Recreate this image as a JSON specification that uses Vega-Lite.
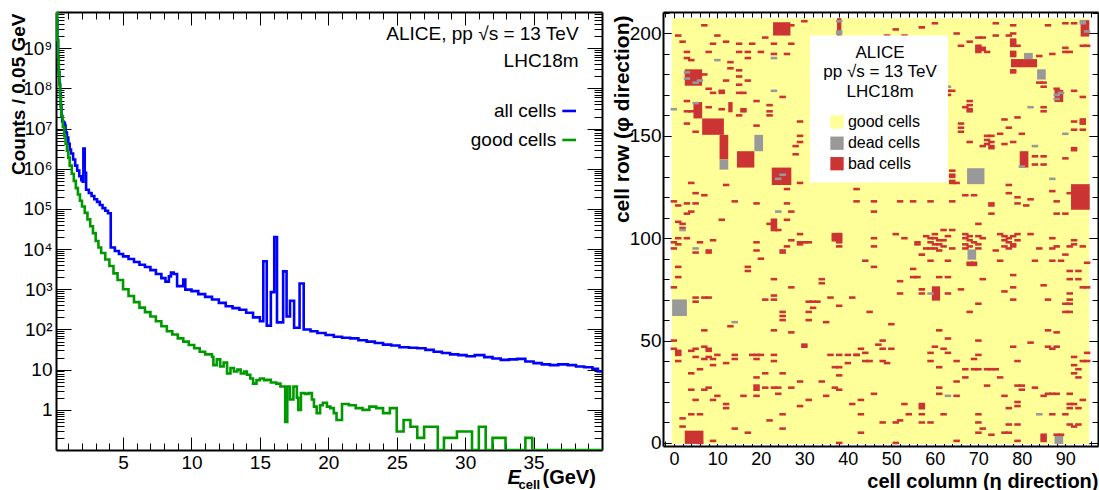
{
"$schema":"https://vega.github.io/schema/vega-lite/v6.json",
"padding":{"left":8,"top":11,"right":0,"bottom":0},
"spacing":7,
"background":"white",
"resolve":{"scale":{"color":"independent"}},
"config":{"view":{"stroke":null},"font":"Liberation Sans","axis":{"labelFont":"Liberation Sans","titleFont":"Liberation Sans","labelColor":"black","titleColor":"black","tickColor":"black","domainColor":"black","grid":false,"tickWidth":1,"domainWidth":2,"labelFontSize":19}},
"datasets":{
"all":[{"e":0.1,"n":3e10},{"e":0.15,"n":5e9},{"e":0.2,"n":1.6e9},{"e":0.25,"n":6e8},{"e":0.3,"n":2.6e8},{"e":0.35,"n":1.3e8},{"e":0.4,"n":7e7},{"e":0.45,"n":3.6e7},{"e":0.5,"n":2.1e7},{"e":0.55,"n":1.5e7},{"e":0.65,"n":1.4e7},{"e":0.75,"n":1.2e7},{"e":0.8,"n":8e6},{"e":0.9,"n":6e6},{"e":1.0,"n":4.2e6},{"e":1.1,"n":3e6},{"e":1.2,"n":2.4e6},{"e":1.35,"n":1.7e6},{"e":1.5,"n":1.2e6},{"e":1.65,"n":9e5},{"e":1.8,"n":6.5e5},{"e":1.95,"n":5.2e5},{"e":2.05,"n":4.8e5},{"e":2.1,"n":3.2e6},{"e":2.2,"n":8e5},{"e":2.3,"n":3e5},{"e":2.5,"n":2.5e5},{"e":2.7,"n":2.1e5},{"e":2.9,"n":1.75e5},{"e":3.1,"n":1.5e5},{"e":3.3,"n":1.25e5},{"e":3.5,"n":1.05e5},{"e":3.7,"n":9e4},{"e":3.9,"n":7.8e4},{"e":4.1,"n":1.1e4},{"e":4.4,"n":9e3},{"e":4.7,"n":7.6e3},{"e":5.0,"n":6.6e3},{"e":5.4,"n":5.7e3},{"e":5.8,"n":4.8e3},{"e":6.2,"n":4.1e3},{"e":6.6,"n":3.6e3},{"e":7.0,"n":3e3},{"e":7.4,"n":2.4e3},{"e":7.8,"n":1.9e3},{"e":8.1,"n":1.55e3},{"e":8.35,"n":2.1e3},{"e":8.5,"n":2.6e3},{"e":8.7,"n":2.4e3},{"e":8.95,"n":1.2e3},{"e":9.4,"n":1.75e3},{"e":9.55,"n":9.8e2},{"e":10.0,"n":9e2},{"e":10.5,"n":7.6e2},{"e":11.0,"n":6.5e2},{"e":11.5,"n":5.6e2},{"e":12.0,"n":4.6e2},{"e":12.5,"n":3.8e2},{"e":13.0,"n":3.4e2},{"e":13.5,"n":3.1e2},{"e":14.0,"n":2.6e2},{"e":14.5,"n":2.0e2},{"e":15.0,"n":1.6e2},{"e":15.25,"n":5e3},{"e":15.5,"n":1.25e2},{"e":15.8,"n":8.5e2},{"e":16.05,"n":2e4},{"e":16.25,"n":1.5e2},{"e":16.7,"n":2.8e3},{"e":16.95,"n":2.1e2},{"e":17.2,"n":5.2e2},{"e":17.5,"n":1.1e2},{"e":17.9,"n":1.4e3},{"e":18.2,"n":1e2},{"e":18.7,"n":9e1},{"e":19.2,"n":8.2e1},{"e":19.8,"n":7.3e1},{"e":20.4,"n":6.6e1},{"e":21.0,"n":6.2e1},{"e":21.6,"n":6e1},{"e":22.2,"n":5.4e1},{"e":22.8,"n":5e1},{"e":23.4,"n":4.6e1},{"e":24.0,"n":4.2e1},{"e":24.6,"n":4e1},{"e":25.2,"n":3.6e1},{"e":25.9,"n":3.5e1},{"e":26.5,"n":3.4e1},{"e":27.1,"n":3.1e1},{"e":27.7,"n":2.8e1},{"e":28.3,"n":2.6e1},{"e":28.9,"n":2.4e1},{"e":29.5,"n":2.3e1},{"e":30.1,"n":2.15e1},{"e":30.7,"n":2.3e1},{"e":31.4,"n":2.05e1},{"e":32.0,"n":1.9e1},{"e":32.6,"n":1.75e1},{"e":33.2,"n":1.8e1},{"e":33.8,"n":1.85e1},{"e":34.4,"n":1.6e1},{"e":35.0,"n":1.45e1},{"e":35.6,"n":1.35e1},{"e":36.2,"n":1.3e1},{"e":36.8,"n":1.35e1},{"e":37.5,"n":1.3e1},{"e":38.1,"n":1.2e1},{"e":38.7,"n":1.15e1},{"e":39.3,"n":1.05e1},{"e":39.7,"n":9},{"e":40,"n":9}],
"good":[{"e":0.1,"n":4e10},{"e":0.15,"n":8e9},{"e":0.2,"n":1.6e9},{"e":0.25,"n":6e8},{"e":0.3,"n":2.4e8},{"e":0.35,"n":1.2e8},{"e":0.4,"n":6e7},{"e":0.45,"n":3.3e7},{"e":0.5,"n":2e7},{"e":0.6,"n":1.1e7},{"e":0.7,"n":6.5e6},{"e":0.8,"n":4.2e6},{"e":0.9,"n":2.8e6},{"e":1.0,"n":1.9e6},{"e":1.1,"n":1.2e6},{"e":1.25,"n":7.5e5},{"e":1.4,"n":5e5},{"e":1.55,"n":3.3e5},{"e":1.7,"n":2.3e5},{"e":1.85,"n":1.6e5},{"e":2.0,"n":1.15e5},{"e":2.2,"n":8e4},{"e":2.4,"n":5.5e4},{"e":2.6,"n":3.7e4},{"e":2.8,"n":2.5e4},{"e":3.0,"n":1.6e4},{"e":3.2,"n":1.1e4},{"e":3.4,"n":8e3},{"e":3.7,"n":5.5e3},{"e":4.0,"n":3.8e3},{"e":4.3,"n":2.5e3},{"e":4.6,"n":1.7e3},{"e":5.0,"n":1e3},{"e":5.4,"n":6.8e2},{"e":5.8,"n":4.8e2},{"e":6.2,"n":3.5e2},{"e":6.6,"n":2.7e2},{"e":7.0,"n":2.1e2},{"e":7.4,"n":1.6e2},{"e":7.8,"n":1.2e2},{"e":8.2,"n":9e1},{"e":8.6,"n":7.5e1},{"e":9.0,"n":6e1},{"e":9.4,"n":5e1},{"e":9.8,"n":4.1e1},{"e":10.2,"n":3.4e1},{"e":10.6,"n":2.8e1},{"e":11.0,"n":2.4e1},{"e":11.5,"n":2.1e1},{"e":11.6,"n":1.3e1},{"e":11.85,"n":1.8e1},{"e":12.1,"n":1.2e1},{"e":12.35,"n":1.5e1},{"e":12.6,"n":8},{"e":12.85,"n":11},{"e":13.1,"n":9},{"e":13.35,"n":10},{"e":13.6,"n":8},{"e":13.85,"n":9},{"e":14.05,"n":7.5},{"e":14.3,"n":6},{"e":14.5,"n":4.5},{"e":14.75,"n":5.5},{"e":15.0,"n":6},{"e":15.3,"n":5.5},{"e":15.55,"n":5.6},{"e":15.8,"n":4.8},{"e":16.2,"n":4.5},{"e":16.5,"n":3.8},{"e":16.85,"n":0.5},{"e":17.0,"n":3.8},{"e":17.2,"n":1.8},{"e":17.45,"n":3.8},{"e":17.7,"n":2},{"e":17.8,"n":1},{"e":18.0,"n":2.6},{"e":18.3,"n":2.5},{"e":18.55,"n":2.6},{"e":18.8,"n":1.8},{"e":18.95,"n":1.2},{"e":19.15,"n":0.83},{"e":19.4,"n":1.3},{"e":19.6,"n":1.5},{"e":19.9,"n":1.2},{"e":20.15,"n":1.1},{"e":20.4,"n":0.83},{"e":20.6,"n":0.56},{"e":21.0,"n":1.4},{"e":21.5,"n":1.3},{"e":22.0,"n":1.1},{"e":22.5,"n":1.0},{"e":23.0,"n":1.2},{"e":23.5,"n":1.1},{"e":24.0,"n":0.83},{"e":24.5,"n":1.1},{"e":25.0,"n":0.29},{"e":25.5,"n":0.56},{"e":26.0,"n":0.38},{"e":26.5,"n":0.2},{"e":27.0,"n":0.38},{"e":28.0,"n":0.1},{"e":28.45,"n":0.2},{"e":29.4,"n":0.29},{"e":30.5,"n":0.1},{"e":31.0,"n":0.38},{"e":31.5,"n":0.1},{"e":32.0,"n":0.2},{"e":32.95,"n":0.1},{"e":34.4,"n":0.2},{"e":34.9,"n":0.1},{"e":40,"n":0.1}],
"leg":[{"s":"all cells","x0":37.1,"x1":38.1,"y":2.75e7},{"s":"good cells","x0":37.1,"x1":38.1,"y":5.22e6}],
"hdr":[{"t":"ALICE, pp  √s = 13 TeV","y":2.27e9},{"t":"LHC18m","y":4.83e8}],
"blocks":[
{"c0":2.5,"c1":6.5,"r0":174.5,"r1":182.5,"t":"bad cells"},
{"c0":4.5,"c1":6.5,"r0":158.5,"r1":166.5,"t":"bad cells"},
{"c0":12.5,"c1":13.5,"r0":161.5,"r1":166.5,"t":"bad cells"},
{"c0":6.5,"c1":11.5,"r0":150.5,"r1":158.5,"t":"bad cells"},
{"c0":10.5,"c1":12.5,"r0":138.5,"r1":150.5,"t":"bad cells"},
{"c0":14.5,"c1":18.5,"r0":134.5,"r1":142.5,"t":"bad cells"},
{"c0":22.5,"c1":27,"r0":126,"r1":134.5,"t":"bad cells"},
{"c0":22.8,"c1":26.8,"r0":199,"r1":205.5,"t":"bad cells"},
{"c0":37.5,"c1":38.5,"r0":198.5,"r1":207.5,"t":"bad cells"},
{"c0":2.5,"c1":6.8,"r0":-0.5,"r1":6,"t":"bad cells"},
{"c0":77.5,"c1":83.5,"r0":183.5,"r1":187.5,"t":"bad cells"},
{"c0":87.5,"c1":89.5,"r0":166.5,"r1":172.5,"t":"bad cells"},
{"c0":79.5,"c1":81.5,"r0":134.5,"r1":142.5,"t":"bad cells"},
{"c0":91.3,"c1":95.6,"r0":113.9,"r1":126.4,"t":"bad cells"},
{"c0":59.3,"c1":61.2,"r0":69.5,"r1":76.5,"t":"bad cells"},
{"c0":93.5,"c1":95.5,"r0":198.5,"r1":206.5,"t":"bad cells"},
{"c0":10.5,"c1":12.5,"r0":133.5,"r1":138.5,"t":"dead cells"},
{"c0":18.5,"c1":20.5,"r0":142.5,"r1":150.5,"t":"dead cells"},
{"c0":-0.4,"c1":3.0,"r0":62,"r1":70.1,"t":"dead cells"},
{"c0":80.5,"c1":82.5,"r0":187.5,"r1":190.5,"t":"dead cells"},
{"c0":83.5,"c1":85.5,"r0":177.5,"r1":182.5,"t":"dead cells"},
{"c0":67.4,"c1":71.4,"r0":126.4,"r1":134.2,"t":"dead cells"},
{"c0":67.5,"c1":69.5,"r0":89.5,"r1":94.5,"t":"dead cells"},
{"c0":87.5,"c1":89.5,"r0":-0.5,"r1":3.5,"t":"dead cells"}],
"bad":[{"c":7,"r":204},{"c":1,"r":199},{"c":2,"r":196},{"c":10,"r":199},{"c":9,"r":195},{"c":12,"r":196},{"c":15,"r":195},{"c":18,"r":195},{"c":21,"r":198},{"c":23,"r":195},{"c":27,"r":195},{"c":30,"r":206},{"c":27,"r":204},{"c":3,"r":191},{"c":8,"r":191},{"c":15,"r":191},{"c":17,"r":191},{"c":17,"r":188},{"c":20,"r":191},{"c":23,"r":190},{"c":26,"r":190},{"c":13,"r":186},{"c":3,"r":188},{"c":4,"r":187},{"c":13,"r":183},{"c":15,"r":182},{"c":7,"r":180},{"c":12,"r":177},{"c":15,"r":179},{"c":17,"r":177},{"c":15,"r":175},{"c":8,"r":173},{"c":9,"r":171},{"c":11,"r":171},{"c":11,"r":172},{"c":16,"r":171},{"c":15,"r":171},{"c":25,"r":169},{"c":3,"r":167},{"c":8,"r":164},{"c":4,"r":162},{"c":11,"r":163},{"c":16,"r":162},{"c":16,"r":163},{"c":19,"r":167},{"c":22,"r":165},{"c":22,"r":162},{"c":15,"r":160},{"c":3,"r":156},{"c":19,"r":155},{"c":22,"r":160},{"c":29,"r":157},{"c":5,"r":152},{"c":29,"r":150},{"c":29,"r":147},{"c":28,"r":145},{"c":28,"r":141},{"c":29,"r":127},{"c":4,"r":127},{"c":12,"r":126},{"c":26,"r":124},{"c":5,"r":122},{"c":7,"r":121},{"c":0,"r":118},{"c":1,"r":116},{"c":3,"r":117},{"c":4,"r":113},{"c":5,"r":117},{"c":14,"r":118},{"c":19,"r":117},{"c":26,"r":117},{"c":27,"r":113},{"c":11,"r":109},{"c":1,"r":108},{"c":2,"r":107},{"c":2,"r":105},{"c":3,"r":100},{"c":0,"r":98},{"c":6,"r":98},{"c":9,"r":99},{"c":22,"r":107},{"c":23,"r":104},{"c":23,"r":105},{"c":23,"r":106},{"c":23,"r":107},{"c":23,"r":108},{"c":23,"r":109},{"c":24,"r":104},{"c":26,"r":109},{"c":29,"r":102},{"c":27,"r":99},{"c":29,"r":97},{"c":26,"r":96},{"c":0,"r":95},{"c":1,"r":97},{"c":1,"r":100},{"c":1,"r":81},{"c":0,"r":76},{"c":0,"r":50},{"c":0,"r":46},{"c":1,"r":45},{"c":1,"r":44},{"c":1,"r":43},{"c":1,"r":40},{"c":2,"r":12},{"c":2,"r":8},{"c":3,"r":162},{"c":3,"r":112},
{"c":5,"r":93},{"c":8,"r":93},{"c":8,"r":94},{"c":1,"r":86},{"c":17,"r":86},{"c":17,"r":84},{"c":20,"r":90},{"c":25,"r":93},{"c":25,"r":94},{"c":19,"r":94},{"c":19,"r":98},{"c":23,"r":80},{"c":27,"r":76},{"c":34,"r":78},{"c":34,"r":80},{"c":5,"r":71},{"c":5,"r":69},{"c":7,"r":71},{"c":8,"r":71},{"c":21,"r":70},{"c":23,"r":72},{"c":23,"r":70},{"c":25,"r":60},{"c":25,"r":62},{"c":25,"r":64},{"c":31,"r":64},{"c":32,"r":66},{"c":31,"r":69},{"c":32,"r":69},{"c":33,"r":69},{"c":36,"r":71},{"c":38,"r":67},{"c":41,"r":71},{"c":31,"r":60},{"c":35,"r":59},{"c":13,"r":57},{"c":7,"r":55},{"c":23,"r":55},{"c":27,"r":54},{"c":30,"r":47},{"c":30,"r":48},{"c":4,"r":45},{"c":5,"r":46},{"c":7,"r":47},{"c":8,"r":45},{"c":8,"r":46},{"c":5,"r":42},{"c":7,"r":41},{"c":8,"r":42},{"c":9,"r":41},{"c":10,"r":43},{"c":9,"r":38},{"c":12,"r":39},{"c":14,"r":43},{"c":14,"r":41},{"c":18,"r":43},{"c":19,"r":43},{"c":20,"r":43},{"c":19,"r":41},{"c":23,"r":43},{"c":23,"r":40},{"c":25,"r":34},{"c":21,"r":34},{"c":19,"r":32},{"c":19,"r":26},{"c":19,"r":27},{"c":19,"r":28},{"c":21,"r":27},{"c":23,"r":27},{"c":24,"r":27},{"c":24,"r":24},{"c":27,"r":27},{"c":29,"r":30},{"c":4,"r":34},{"c":6,"r":36},{"c":7,"r":26},{"c":8,"r":27},{"c":4,"r":26},{"c":5,"r":21},{"c":9,"r":21},{"c":10,"r":23},{"c":12,"r":19},{"c":12,"r":17},{"c":16,"r":23},{"c":19,"r":23},{"c":4,"r":14},{"c":6,"r":14},{"c":22,"r":11},{"c":25,"r":14},{"c":29,"r":18},{"c":31,"r":21},{"c":34,"r":30},{"c":35,"r":23},{"c":37,"r":27},{"c":38,"r":26},{"c":37,"r":37},{"c":38,"r":37},{"c":38,"r":33},{"c":40,"r":39},{"c":40,"r":43},{"c":38,"r":43},{"c":36,"r":43},{"c":42,"r":43},{"c":43,"r":46},{"c":14,"r":7},{"c":17,"r":5},{"c":25,"r":7},{"c":9,"r":1},{"c":6,"r":0},{"c":38,"r":0},{"c":41,"r":19},{"c":43,"r":21},{"c":43,"r":14},{"c":43,"r":5},{"c":29,"r":98},{"c":30,"r":98},{"c":31,"r":98},{"c":38,"r":98},{"c":38,"r":96},{"c":37,"r":99},{"c":38,"r":99},{"c":37,"r":100},{"c":38,"r":100},{"c":37,"r":101},{"c":38,"r":101},{"c":37,"r":102},{"c":38,"r":102},
{"c":51,"r":202},{"c":57,"r":203},{"c":60,"r":205},{"c":49,"r":199},{"c":53,"r":199},{"c":65,"r":200},{"c":66,"r":194},{"c":68,"r":196},{"c":70,"r":198},{"c":71,"r":198},{"c":70,"r":194},{"c":70,"r":193},{"c":71,"r":193},{"c":70,"r":192},{"c":71,"r":192},{"c":70,"r":191},{"c":72,"r":191},{"c":74,"r":205},{"c":78,"r":204},{"c":74,"r":199},{"c":77,"r":199},{"c":78,"r":200},{"c":78,"r":197},{"c":78,"r":196},{"c":78,"r":195},{"c":78,"r":194},{"c":79,"r":194},{"c":78,"r":182},{"c":78,"r":181},{"c":78,"r":189},{"c":78,"r":190},{"c":78,"r":191},{"c":84,"r":189},{"c":86,"r":204},{"c":90,"r":205},{"c":92,"r":205},{"c":94,"r":194},{"c":95,"r":194},{"c":87,"r":190},{"c":90,"r":191},{"c":91,"r":191},{"c":90,"r":193},{"c":84,"r":176},{"c":85,"r":176},{"c":85,"r":174},{"c":88,"r":173},{"c":92,"r":172},{"c":94,"r":169},{"c":92,"r":157},{"c":94,"r":156},{"c":94,"r":157},{"c":94,"r":158},{"c":92,"r":153},{"c":94,"r":153},{"c":79,"r":159},{"c":76,"r":158},{"c":80,"r":151},{"c":75,"r":151},{"c":77,"r":154},{"c":72,"r":150},{"c":73,"r":150},{"c":72,"r":148},{"c":73,"r":147},{"c":72,"r":146},{"c":73,"r":145},{"c":73,"r":144},{"c":68,"r":147},{"c":71,"r":145},{"c":76,"r":146},{"c":78,"r":147},{"c":66,"r":154},{"c":66,"r":152},{"c":66,"r":156},{"c":85,"r":164},{"c":85,"r":162},{"c":83,"r":140},{"c":85,"r":140},{"c":83,"r":136},{"c":85,"r":136},{"c":90,"r":139},{"c":92,"r":144},{"c":92,"r":143},{"c":64,"r":133},{"c":64,"r":131},{"c":64,"r":130},{"c":64,"r":128},{"c":65,"r":127},{"c":64,"r":127},{"c":63,"r":172},{"c":64,"r":172},{"c":63,"r":170},{"c":68,"r":167},{"c":68,"r":165},{"c":67,"r":164},{"c":68,"r":163},{"c":68,"r":162},{"c":91,"r":122},{"c":88,"r":118},{"c":90,"r":112},{"c":88,"r":112},{"c":87,"r":123},{"c":77,"r":126},{"c":77,"r":122},{"c":79,"r":120},{"c":79,"r":117},{"c":82,"r":119},{"c":81,"r":116},{"c":73,"r":117},{"c":73,"r":116},{"c":73,"r":112},{"c":70,"r":107},{"c":67,"r":121},{"c":69,"r":121},{"c":64,"r":118},{"c":59,"r":118},{"c":55,"r":118},{"c":52,"r":118},{"c":46,"r":118},{"c":46,"r":113},{"c":42,"r":118},{"c":42,"r":124},{"c":62,"r":104},{"c":64,"r":104},{"c":46,"r":100},{"c":53,"r":100},{"c":56,"r":98},{"c":51,"r":102},{"c":82,"r":102},{"c":87,"r":100},{"c":92,"r":99},{"c":94,"r":96},{"c":92,"r":97},
{"c":58,"r":101},{"c":59,"r":100},{"c":60,"r":100},{"c":61,"r":99},{"c":59,"r":98},{"c":60,"r":97},{"c":61,"r":97},{"c":62,"r":96},{"c":59,"r":95},{"c":60,"r":95},{"c":61,"r":94},{"c":62,"r":99},{"c":63,"r":101},{"c":60,"r":102},{"c":67,"r":102},{"c":68,"r":101},{"c":67,"r":100},{"c":68,"r":99},{"c":69,"r":98},{"c":67,"r":97},{"c":68,"r":96},{"c":70,"r":101},{"c":71,"r":100},{"c":70,"r":97},{"c":67,"r":95},{"c":68,"r":88},{"c":69,"r":88},{"c":68,"r":87},{"c":69,"r":87},{"c":75,"r":102},{"c":76,"r":101},{"c":77,"r":100},{"c":78,"r":101},{"c":76,"r":99},{"c":77,"r":98},{"c":78,"r":97},{"c":79,"r":99},{"c":76,"r":96},{"c":77,"r":95},{"c":78,"r":96},{"c":79,"r":102},
{"c":46,"r":96},{"c":56,"r":97},{"c":57,"r":92},{"c":58,"r":95},{"c":64,"r":95},{"c":70,"r":95},{"c":74,"r":94},{"c":84,"r":95},{"c":87,"r":95},{"c":88,"r":96},{"c":90,"r":92},{"c":91,"r":96},{"c":44,"r":89},{"c":46,"r":86},{"c":55,"r":85},{"c":59,"r":89},{"c":63,"r":89},{"c":75,"r":89},{"c":83,"r":89},{"c":87,"r":89},{"c":89,"r":89},{"c":95,"r":88},{"c":55,"r":81},{"c":56,"r":81},{"c":61,"r":81},{"c":63,"r":81},{"c":71,"r":80},{"c":78,"r":82},{"c":91,"r":84},{"c":93,"r":84},{"c":91,"r":80},{"c":93,"r":80},{"c":52,"r":79},{"c":57,"r":75},{"c":57,"r":73},{"c":63,"r":73},{"c":66,"r":75},{"c":52,"r":73},{"c":76,"r":74},{"c":78,"r":76},{"c":78,"r":70},{"c":85,"r":77},{"c":86,"r":70},{"c":91,"r":73},{"c":91,"r":70},{"c":91,"r":68},{"c":90,"r":68},{"c":91,"r":64},{"c":90,"r":64},{"c":70,"r":68},{"c":68,"r":64},{"c":45,"r":64},{"c":50,"r":58},{"c":61,"r":55},{"c":63,"r":51},{"c":70,"r":50},{"c":82,"r":49},{"c":86,"r":55},{"c":88,"r":54},{"c":86,"r":47},{"c":87,"r":46},{"c":88,"r":47},{"c":78,"r":47},{"c":48,"r":50},{"c":47,"r":48},{"c":48,"r":46},{"c":50,"r":46},{"c":42,"r":43},{"c":44,"r":44},{"c":44,"r":40},{"c":45,"r":40},{"c":48,"r":40},{"c":49,"r":39},{"c":60,"r":47},{"c":59,"r":44},{"c":62,"r":46},{"c":63,"r":44},{"c":59,"r":40},{"c":61,"r":37},{"c":65,"r":40},{"c":70,"r":43},{"c":69,"r":41},{"c":79,"r":40},{"c":95,"r":44},{"c":94,"r":40},{"c":95,"r":40},{"c":92,"r":42},{"c":92,"r":38},{"c":93,"r":36},{"c":92,"r":34},{"c":93,"r":32},{"c":67,"r":36},{"c":67,"r":32},{"c":69,"r":36},{"c":70,"r":36},{"c":72,"r":36},{"c":73,"r":36},{"c":74,"r":36},{"c":75,"r":32},{"c":65,"r":30},{"c":61,"r":27},{"c":61,"r":24},{"c":65,"r":23},{"c":72,"r":28},{"c":79,"r":28},{"c":80,"r":28},{"c":80,"r":26},{"c":83,"r":27},{"c":79,"r":18},{"c":79,"r":20},{"c":76,"r":23},{"c":85,"r":23},{"c":86,"r":24},{"c":87,"r":24},{"c":88,"r":24},{"c":91,"r":24},{"c":94,"r":21},{"c":91,"r":19},{"c":92,"r":19},{"c":85,"r":1},{"c":85,"r":2},{"c":85,"r":3},{"c":85,"r":4},{"c":88,"r":4},{"c":89,"r":4},{"c":76,"r":5},{"c":77,"r":5},{"c":79,"r":1},{"c":73,"r":4},{"c":70,"r":5},{"c":71,"r":7},{"c":79,"r":9},{"c":77,"r":9},{"c":91,"r":9},{"c":92,"r":8},{"c":93,"r":9},{"c":90,"r":14},{"c":91,"r":17},{"c":93,"r":17},{"c":87,"r":14},{"c":77,"r":17},{"c":70,"r":14},{"c":70,"r":10},{"c":62,"r":14},{"c":57,"r":17},{"c":57,"r":18},{"c":57,"r":19},{"c":57,"r":14},{"c":57,"r":10},{"c":59,"r":10},{"c":54,"r":14},{"c":53,"r":19},{"c":52,"r":11},{"c":51,"r":10},{"c":48,"r":10},{"c":46,"r":24},{"c":51,"r":0},{"c":65,"r":1},{"c":95,"r":76},{"c":94,"r":76}],
"dead":[{"c":10,"r":187},{"c":23,"r":188},{"c":23,"r":172},{"c":5,"r":166},{"c":24,"r":113},{"c":2,"r":104},{"c":0,"r":163},{"c":5,"r":95},{"c":14,"r":59},{"c":3,"r":181},{"c":3,"r":178},{"c":5,"r":176},{"c":6,"r":177},{"c":25,"r":131},{"c":24,"r":129},{"c":38,"r":200},{"c":38,"r":201},{"c":38,"r":206},{"c":82,"r":164},{"c":90,"r":151},{"c":83,"r":145},{"c":87,"r":129},{"c":80,"r":135},{"c":88,"r":170},{"c":89,"r":171},{"c":88,"r":168},{"c":63,"r":174},{"c":59,"r":73},{"c":63,"r":23},{"c":84,"r":14},{"c":94,"r":206},{"c":94,"r":205},{"c":95,"r":201}],
"rhdr":[{"t":"ALICE","r":190.5},{"t":"pp  √s = 13 TeV","r":181},{"t":"LHC18m","r":171.6}],
"sw":[{"k":"good cells","r":156.8},{"k":"dead cells","r":146.4},{"k":"bad cells","r":136.4}]
},
"hconcat":[
{
"width":546,"height":438,
"resolve":{"axis":{"x":"independent","y":"independent"}},
"layer":[
{"data":{"name":"all"},
 "mark":{"type":"line","interpolate":"step-after","color":"#0000ff","strokeWidth":2.6,"clip":true},
 "encoding":{
  "x":{"field":"e","type":"quantitative","scale":{"domain":[0.1,40],"nice":false,"zero":false},
   "axis":{"orient":"bottom","values":[5,10,15,20,25,30,35],"tickSize":-13,"labelPadding":16,"title":null}},
  "y":{"field":"n","type":"quantitative","scale":{"type":"log","domain":[0.1,8e9],"nice":false},
   "axis":{"orient":"left","values":[1,10,100,1000,10000,100000,1000000,10000000,100000000,1000000000],"tickSize":-15,"labelPadding":19,
    "labelExpr":"datum.value >= 100 ? '10' + substring('⁰¹²³⁴⁵⁶⁷⁸⁹', round(log(datum.value)/LN10), round(log(datum.value)/LN10) + 1) : (datum.value >= 10 ? '10' : '1')",
    "title":"Counts / 0.05 GeV","titleFontSize":19,"titleFontWeight":"bold","titleAngle":-90,"titleAlign":"right","titleBaseline":"middle","titleX":-38,"titleY":1}}}},
{"data":{"name":"good"},
 "mark":{"type":"line","interpolate":"step-after","color":"#009900","strokeWidth":2.6,"clip":true},
 "encoding":{
  "x":{"field":"e","type":"quantitative","scale":{"domain":[0.1,40],"nice":false,"zero":false},
   "axis":{"orient":"bottom","values":[1,2,3,4,6,7,8,9,11,12,13,14,16,17,18,19,21,22,23,24,26,27,28,29,31,32,33,34,36,37,38,39],"tickSize":-7,"labels":false,"domain":false,"title":null}},
  "y":{"field":"n","type":"quantitative","scale":{"type":"log","domain":[0.1,8e9],"nice":false},
   "axis":{"orient":"left","values":[0.2,0.3,0.4,0.5,0.6,0.7,0.8,0.9,2,3,4,5,6,7,8,9,20,30,40,50,60,70,80,90,200,300,400,500,600,700,800,900,2000,3000,4000,5000,6000,7000,8000,9000,20000,30000,40000,50000,60000,70000,80000,90000,200000,300000,400000,500000,600000,700000,800000,900000,2000000,3000000,4000000,5000000,6000000,7000000,8000000,9000000,20000000,30000000,40000000,50000000,60000000,70000000,80000000,90000000,200000000,300000000,400000000,500000000,600000000,700000000,800000000,900000000,2000000000,3000000000,4000000000,5000000000,6000000000,7000000000],"tickSize":-8,"labels":false,"domain":false,"title":null}}}},
{"data":{"name":"leg"},
 "mark":{"type":"rule","strokeWidth":2.6},
 "encoding":{
  "x":{"field":"x0","type":"quantitative","scale":{"domain":[0.1,40],"nice":false,"zero":false},
   "axis":{"orient":"top","values":[5,10,15,20,25,30,35],"tickSize":-13,"labels":false,"title":null}},
  "x2":{"field":"x1"},
  "y":{"field":"y","type":"quantitative","scale":{"type":"log","domain":[0.1,8e9],"nice":false},
   "axis":{"orient":"right","values":[1,10,100,1000,10000,100000,1000000,10000000,100000000,1000000000],"tickSize":-15,"labels":false,"title":null}},
  "color":{"field":"s","type":"nominal","scale":{"domain":["all cells","good cells"],"range":["#0000ff","#009900"]},"legend":null}}},
{"data":{"name":"leg"},
 "mark":{"type":"text","align":"right","baseline":"middle","dx":-6,"fontSize":19,"font":"Liberation Sans","color":"black"},
 "encoding":{
  "x":{"field":"x0","type":"quantitative","scale":{"domain":[0.1,40],"nice":false,"zero":false},
   "axis":{"orient":"top","values":[1,2,3,4,6,7,8,9,11,12,13,14,16,17,18,19,21,22,23,24,26,27,28,29,31,32,33,34,36,37,38,39],"tickSize":-7,"labels":false,"domain":false,"title":null}},
  "y":{"field":"y","type":"quantitative","scale":{"type":"log","domain":[0.1,8e9],"nice":false},
   "axis":{"orient":"right","values":[0.2,0.3,0.4,0.5,0.6,0.7,0.8,0.9,2,3,4,5,6,7,8,9,20,30,40,50,60,70,80,90,200,300,400,500,600,700,800,900,2000,3000,4000,5000,6000,7000,8000,9000,20000,30000,40000,50000,60000,70000,80000,90000,200000,300000,400000,500000,600000,700000,800000,900000,2000000,3000000,4000000,5000000,6000000,7000000,8000000,9000000,20000000,30000000,40000000,50000000,60000000,70000000,80000000,90000000,200000000,300000000,400000000,500000000,600000000,700000000,800000000,900000000,2000000000,3000000000,4000000000,5000000000,6000000000,7000000000],"tickSize":-8,"labels":false,"domain":false,"title":null}},
  "text":{"field":"s"}}},
{"data":{"name":"hdr"},
 "mark":{"type":"text","align":"right","baseline":"middle","fontSize":19,"font":"Liberation Sans","color":"black"},
 "encoding":{
  "x":{"datum":38.29,"type":"quantitative","scale":{"domain":[0.1,40],"nice":false,"zero":false},"axis":null},
  "y":{"field":"y","type":"quantitative","scale":{"type":"log","domain":[0.1,8e9],"nice":false},"axis":null},
  "text":{"field":"t"}}},
{"data":{"values":[{}]},
 "mark":{"type":"text","text":"E","align":"left","baseline":"middle","fontSize":20,"fontWeight":"bold","fontStyle":"italic","font":"Liberation Sans","color":"black","clip":false},
 "encoding":{
  "x":{"datum":33.09,"type":"quantitative","scale":{"domain":[0.1,40],"nice":false,"zero":false},"axis":null},
  "y":{"datum":0.0203,"type":"quantitative","scale":{"type":"log","domain":[0.1,8e9],"nice":false},"axis":null}}},
{"data":{"values":[{}]},
 "mark":{"type":"text","text":"cell","align":"left","baseline":"middle","fontSize":13,"fontWeight":"bold","font":"Liberation Sans","color":"black","clip":false},
 "encoding":{
  "x":{"datum":33.9,"type":"quantitative","scale":{"domain":[0.1,40],"nice":false,"zero":false},"axis":null},
  "y":{"datum":0.0136,"type":"quantitative","scale":{"type":"log","domain":[0.1,8e9],"nice":false},"axis":null}}},
{"data":{"values":[{}]},
 "mark":{"type":"text","text":"(GeV)","align":"left","baseline":"middle","fontSize":20,"fontWeight":"bold","font":"Liberation Sans","color":"black","clip":false},
 "encoding":{
  "x":{"datum":35.65,"type":"quantitative","scale":{"domain":[0.1,40],"nice":false,"zero":false},"axis":null},
  "y":{"datum":0.0203,"type":"quantitative","scale":{"type":"log","domain":[0.1,8e9],"nice":false},"axis":null}}}
]},
{
"width":435,"height":434,
"resolve":{"axis":{"x":"independent","y":"independent"}},
"layer":[
{"data":{"values":[{"c0":-0.5,"c1":95.5,"r0":-0.5,"r1":207.5,"t":"good cells"}]},
 "mark":{"type":"rect"},
 "encoding":{
  "x":{"field":"c0","type":"quantitative","scale":{"domain":[-2.5,97.5],"nice":false,"zero":false},
   "axis":{"orient":"bottom","values":[0,10,20,30,40,50,60,70,80,90],"tickSize":-11,"labelPadding":15,"labelFontSize":18,
    "title":"cell column (η direction)","titleFontSize":20,"titleFontWeight":"bold","titleAlign":"right","titleBaseline":"middle","titleX":435,"titleY":35}},
  "x2":{"field":"c1"},
  "y":{"field":"r0","type":"quantitative","scale":{"domain":[-1.5,210.5],"nice":false,"zero":false},
   "axis":{"orient":"left","values":[0,50,100,150,200],"tickSize":-12,"labelPadding":14,
    "title":"cell row (φ direction)","titleFontSize":21,"titleFontWeight":"bold","titleAngle":-90,"titleAlign":"right","titleBaseline":"middle","titleX":-41,"titleY":3}},
  "y2":{"field":"r1"},
  "color":{"field":"t","type":"nominal","scale":{"domain":["good cells","dead cells","bad cells"],"range":["#ffff99","#999999","#cc3333"]},"legend":null}}},
{"data":{"name":"blocks"},
 "mark":{"type":"rect"},
 "encoding":{
  "x":{"field":"c0","type":"quantitative","scale":{"domain":[-2.5,97.5],"nice":false,"zero":false},
   "axis":{"orient":"bottom","values":[-2,2,4,6,8,12,14,16,18,22,24,26,28,32,34,36,38,42,44,46,48,52,54,56,58,62,64,66,68,72,74,76,78,82,84,86,88,92,94,96],"tickSize":-5,"labels":false,"domain":false,"title":null}},
  "x2":{"field":"c1"},
  "y":{"field":"r0","type":"quantitative","scale":{"domain":[-1.5,210.5],"nice":false,"zero":false},
   "axis":{"orient":"left","values":[10,20,30,40,60,70,80,90,110,120,130,140,160,170,180,190,210],"tickSize":-6,"labels":false,"domain":false,"title":null}},
  "y2":{"field":"r1"},
  "color":{"field":"t","type":"nominal","scale":{"domain":["good cells","dead cells","bad cells"],"range":["#ffff99","#999999","#cc3333"]},"legend":null}}},
{"data":{"name":"bad"},
 "mark":{"type":"tick","orient":"horizontal","size":6.5,"thickness":2.6,"opacity":1},
 "encoding":{
  "x":{"field":"c","type":"quantitative","scale":{"domain":[-2.5,97.5],"nice":false,"zero":false},
   "axis":{"orient":"top","values":[0,10,20,30,40,50,60,70,80,90],"tickSize":-11,"labels":false,"title":null}},
  "y":{"field":"r","type":"quantitative","scale":{"domain":[-1.5,210.5],"nice":false,"zero":false},
   "axis":{"orient":"right","values":[0,50,100,150,200],"tickSize":-12,"labels":false,"title":null}},
  "color":{"datum":"bad cells","type":"nominal","scale":{"domain":["good cells","dead cells","bad cells"],"range":["#ffff99","#999999","#cc3333"]},"legend":null}}},
{"data":{"name":"dead"},
 "mark":{"type":"tick","orient":"horizontal","size":6.5,"thickness":2.6,"opacity":1},
 "encoding":{
  "x":{"field":"c","type":"quantitative","scale":{"domain":[-2.5,97.5],"nice":false,"zero":false},
   "axis":{"orient":"top","values":[-2,2,4,6,8,12,14,16,18,22,24,26,28,32,34,36,38,42,44,46,48,52,54,56,58,62,64,66,68,72,74,76,78,82,84,86,88,92,94,96],"tickSize":-5,"labels":false,"domain":false,"title":null}},
  "y":{"field":"r","type":"quantitative","scale":{"domain":[-1.5,210.5],"nice":false,"zero":false},
   "axis":{"orient":"right","values":[10,20,30,40,60,70,80,90,110,120,130,140,160,170,180,190,210],"tickSize":-6,"labels":false,"domain":false,"title":null}},
  "color":{"datum":"dead cells","type":"nominal","scale":{"domain":["good cells","dead cells","bad cells"],"range":["#ffff99","#999999","#cc3333"]},"legend":null}}},
{"data":{"values":[{"c0":31.3,"c1":63,"r0":127.2,"r1":199}]},
 "mark":{"type":"rect","color":"white"},
 "encoding":{
  "x":{"field":"c0","type":"quantitative","scale":{"domain":[-2.5,97.5],"nice":false,"zero":false},"axis":null},
  "x2":{"field":"c1"},
  "y":{"field":"r0","type":"quantitative","scale":{"domain":[-1.5,210.5],"nice":false,"zero":false},"axis":null},
  "y2":{"field":"r1"}}},
{"data":{"name":"rhdr"},
 "mark":{"type":"text","align":"center","baseline":"middle","fontSize":17,"font":"Liberation Sans","color":"black"},
 "encoding":{
  "x":{"datum":47.4,"type":"quantitative","scale":{"domain":[-2.5,97.5],"nice":false,"zero":false},"axis":null},
  "y":{"field":"r","type":"quantitative","scale":{"domain":[-1.5,210.5],"nice":false,"zero":false},"axis":null},
  "text":{"field":"t"}}},
{"data":{"name":"sw"},
 "mark":{"type":"point","shape":"square","filled":true,"size":177,"opacity":1},
 "encoding":{
  "x":{"datum":37.5,"type":"quantitative","scale":{"domain":[-2.5,97.5],"nice":false,"zero":false},"axis":null},
  "y":{"field":"r","type":"quantitative","scale":{"domain":[-1.5,210.5],"nice":false,"zero":false},"axis":null},
  "color":{"field":"k","type":"nominal","scale":{"domain":["good cells","dead cells","bad cells"],"range":["#ffff99","#999999","#cc3333"]},"legend":null}}},
{"data":{"name":"sw"},
 "mark":{"type":"text","align":"left","baseline":"middle","fontSize":16,"font":"Liberation Sans","color":"black"},
 "encoding":{
  "x":{"datum":40.0,"type":"quantitative","scale":{"domain":[-2.5,97.5],"nice":false,"zero":false},"axis":null},
  "y":{"field":"r","type":"quantitative","scale":{"domain":[-1.5,210.5],"nice":false,"zero":false},"axis":null},
  "text":{"field":"k"}}}
]}
]
}
